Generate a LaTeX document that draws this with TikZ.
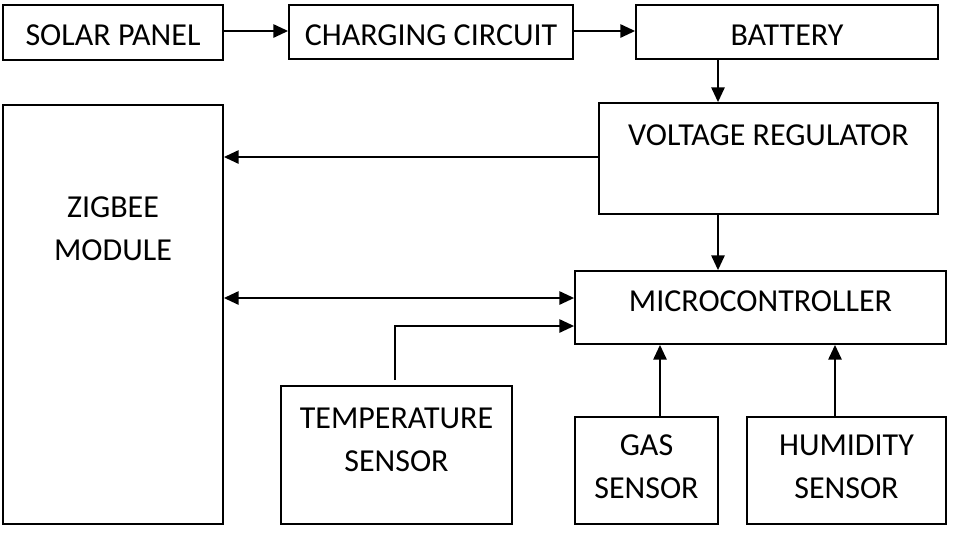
\documentclass[tikz,border=0pt]{standalone}
\usepackage{fontspec}
\setmainfont{Carlito}
\usetikzlibrary{arrows.meta,fit}
\begin{document}
\begin{tikzpicture}[x=0.75pt,y=-0.75pt,
  box/.style={draw,line width=1.4pt,rectangle,inner sep=0pt},
  lbl/.style={font=\fontsize{24}{32.25}\selectfont,align=center,inner sep=0pt,anchor=base},
  conn/.style={line width=1.2pt,-{Triangle[length=11pt,width=10pt]}},
  bconn/.style={line width=1.2pt,{Triangle[length=11pt,width=10pt]}-{Triangle[length=11pt,width=10pt]}}]
\useasboundingbox (0,0) rectangle (953,533);
\fill[white] (0,0) rectangle (953,533);
% boxes
\node[box,fit={(3,5)(223,60)}] (solar) {};
\node[box,fit={(289,5)(573,59)}] (charge) {};
\node[box,fit={(636,5)(938,59)}] (battery) {};
\node[box,fit={(599,103)(938,214)}] (vr) {};
\node[box,fit={(3,105)(223,524)}] (zig) {};
\node[box,fit={(575,271)(946,344)}] (mc) {};
\node[box,fit={(281,386)(512,524)}] (temp) {};
\node[box,fit={(575,417)(718,524)}] (gas) {};
\node[box,fit={(747,417)(946,524)}] (hum) {};
% labels (base = baseline of last line)
\node[lbl] (solarT) at (113,45) {SOLAR PANEL};
\node[lbl] (chargeT) at (431,45) {CHARGING CIRCUIT};
\node[lbl] (batteryT) at (787,45) {BATTERY};
\node[lbl] (vrT) at (768.5,145) {VOLTAGE REGULATOR};
\node[lbl] (mcT) at (760.5,311) {MICROCONTROLLER};
\node[lbl] (zigT) at (113,260) {ZIGBEE\\MODULE};
\node[lbl] (tempT) at (396.5,471) {TEMPERATURE\\SENSOR};
\node[lbl] (gasT) at (646.5,498) {GAS\\SENSOR};
\node[lbl] (humT) at (846.5,498) {HUMIDITY\\SENSOR};
% helper coordinates
\coordinate (xb) at (718,0);
\coordinate (y157) at (0,157);
\coordinate (y298) at (0,298);
\coordinate (y326) at (0,326);
\coordinate (tstart) at (395,380);
\coordinate (xg) at (660,0);
\coordinate (xh) at (835,0);
% connectors
\draw[conn] (solar.east |- 0,31) -- (charge.west |- 0,31);
\draw[conn] (charge.east |- 0,31) -- (battery.west |- 0,31);
\draw[conn] (battery.south -| xb) -- (vr.north -| xb);
\draw[conn] (vr.west |- y157) -- (zig.east |- y157);
\draw[conn] (vr.south -| xb) -- (mc.north -| xb);
\draw[bconn] (zig.east |- y298) -- (mc.west |- y298);
\draw[conn] (tstart) |- (mc.west |- y326);
\draw[conn] (gas.north -| xg) -- (mc.south -| xg);
\draw[conn] (hum.north -| xh) -- (mc.south -| xh);
\end{tikzpicture}
\end{document}
